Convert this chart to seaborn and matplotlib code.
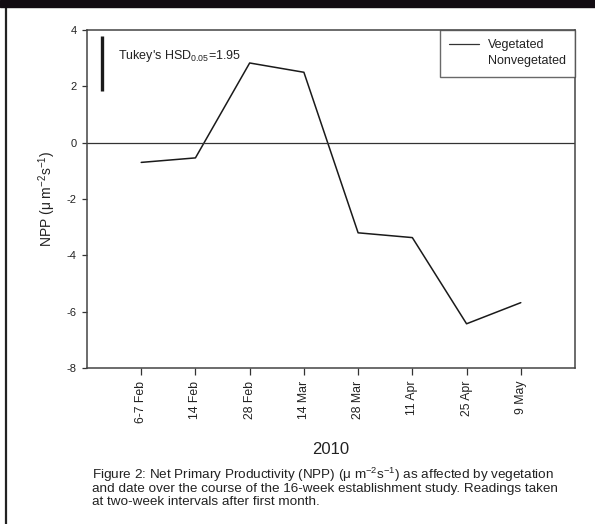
import matplotlib
matplotlib.use("Agg")
import matplotlib.pyplot as plt
from matplotlib.lines import Line2D
import seaborn as sns
import pandas as pd

# Sampling dates (2010) and mean net primary productivity
dates = ["6-7 Feb", "14 Feb", "28 Feb", "14 Mar", "28 Mar", "11 Apr", "25 Apr", "9 May"]
npp_vegetated = [-0.70, -0.54, 2.83, 2.50, -3.20, -3.37, -6.43, -5.68]
yticks = [-8, -6, -4, -2, 0, 2, 4]
hsd_value = 1.95
hsd_top = 3.80

df = pd.DataFrame({"date": dates, "npp": npp_vegetated})

sns.set_theme(style="white")
plt.rcParams["font.family"] = ["Liberation Sans", "DejaVu Sans"]
plt.rcParams["mathtext.fontset"] = "custom"
plt.rcParams["mathtext.rm"] = "Liberation Sans"
plt.rcParams["mathtext.it"] = "Liberation Sans"

TXT = "#222222"

fig = plt.figure(figsize=(5.95, 5.24), dpi=100)
fig.patch.set_facecolor("white")
ax = fig.add_axes([0.1462, 0.2977, 0.8202, 0.645])

sns.lineplot(data=df, x="date", y="npp", ax=ax, color="#1a1a1a",
             linewidth=1.1, sort=False, legend=False)
ax.axhline(0, color="#333333", linewidth=0.9)

# Tukey's HSD reference bar
bar_x = -0.73
ax.plot([bar_x, bar_x], [hsd_top, hsd_top - hsd_value], color="#1a1a1a",
        linewidth=2.4, solid_capstyle="butt")
ax.text(-0.43, 3.08, "Tukey's HSD$_{0.05}$=1.95", fontsize=9,
        color=TXT, va="center", ha="left")

ax.set_xlim(-1, 8)
ax.set_ylim(-8, 4)
ax.set_yticks(yticks)
ax.set_yticklabels([str(v) for v in yticks], fontsize=8, color=TXT)
ax.set_xticks(range(len(dates)))
ax.set_xticklabels(dates, rotation=90, fontsize=8.8, color=TXT)
ax.tick_params(axis="y", which="major", direction="out", length=3.5,
               width=0.9, color="#333333", left=True, pad=4)
ax.tick_params(axis="x", which="major", direction="out", length=5,
               width=0.9, color="#333333", bottom=True, pad=4)
for side in ["left", "right", "top", "bottom"]:
    ax.spines[side].set_visible(True)
    ax.spines[side].set_color("#444444")
    ax.spines[side].set_linewidth(1.1)

ax.set_xlabel("2010", fontsize=12, color=TXT, labelpad=14)
ax.set_ylabel("NPP ($\\mu$ m$^{-2}$s$^{-1}$)", fontsize=10, color=TXT,
              labelpad=6)

handles = [Line2D([0], [0], color="#333333", linewidth=0.9),
           Line2D([0], [0], color="white", linewidth=0.9)]
leg = ax.legend(handles, ["Vegetated", "Nonvegetated"], loc="upper right",
                borderaxespad=0, fancybox=False, frameon=True, fontsize=9,
                handlelength=2.4, handletextpad=0.7, borderpad=0.75,
                labelspacing=0.3)
leg.get_frame().set_edgecolor("#444444")
leg.get_frame().set_linewidth(1.0)
for t in leg.get_texts():
    t.set_color(TXT)

# Page decorations: dark header band and left rule
fig.add_artist(plt.Rectangle((0, 1 - 7 / 524), 1, 7 / 524, transform=fig.transFigure,
                             color="#120c12", zorder=10))
fig.add_artist(Line2D([6 / 595, 6 / 595], [0, 1], transform=fig.transFigure,
                      color="#222222", linewidth=1.6))

caption_lines = [
    "Figure 2: Net Primary Productivity (NPP) ($\\mu$ m$^{-2}$s$^{-1}$) as affected by vegetation",
    "and date over the course of the 16-week establishment study. Readings taken",
    "at two-week intervals after first month.",
]
for i, line in enumerate(caption_lines):
    fig.text(92 / 595, 1 - (479 + 13 * i) / 524, line, fontsize=9.7, color=TXT,
             ha="left", va="baseline")

fig.savefig("out.png", dpi=100)
